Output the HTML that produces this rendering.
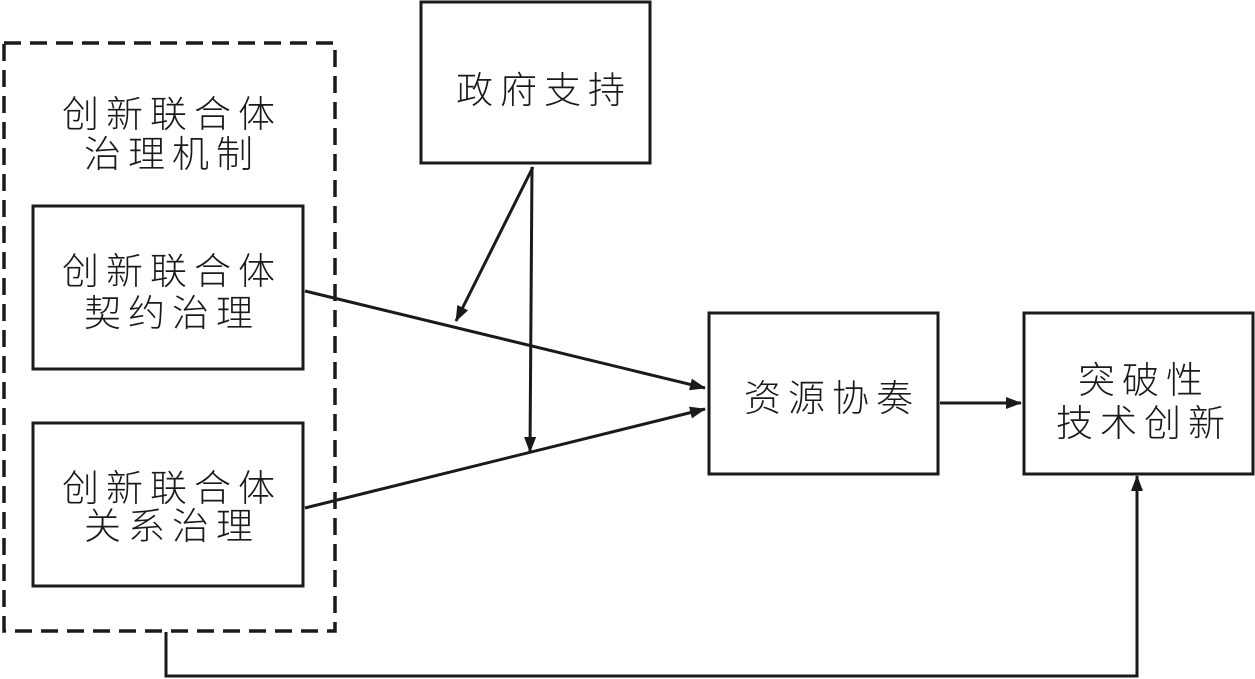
<!DOCTYPE html>
<html><head><meta charset="utf-8"><style>
html,body{margin:0;padding:0;background:#fff;}
svg{display:block;}
text{font-family:"Liberation Sans","Noto Sans CJK SC",sans-serif;font-size:37px;font-weight:300;fill:#1a1a1a;text-anchor:middle;letter-spacing:7px;}
</style></head><body>
<svg width="1255" height="679" viewBox="0 0 1255 679" xmlns="http://www.w3.org/2000/svg">
<defs>
<marker id="b" markerWidth="16" markerHeight="12" refX="15" refY="6" orient="auto" markerUnits="userSpaceOnUse">
<path d="M0,0 L16,6 L0,12 Z" fill="#1a1a1a"/></marker>
</defs>
<g fill="none" stroke="#1a1a1a" stroke-width="3">
<rect x="4" y="43" width="331" height="588" stroke-dasharray="17,9" stroke-width="3.5"/>
<rect x="33" y="206" width="270" height="163"/>
<rect x="33" y="423" width="270" height="163"/>
<rect x="421" y="2" width="229" height="161"/>
<rect x="709" y="313" width="229" height="161"/>
<rect x="1024" y="313" width="229" height="161"/>
<line x1="305" y1="291" x2="705" y2="388" marker-end="url(#b)"/>
<line x1="305" y1="508" x2="705" y2="409" marker-end="url(#b)"/>
<line x1="533" y1="167" x2="456" y2="321" marker-end="url(#b)"/>
<line x1="532" y1="167" x2="530" y2="452" marker-end="url(#b)"/>
<line x1="940" y1="403" x2="1021" y2="403" marker-end="url(#b)"/>
<polyline points="166,632 166,676 1137,676 1137,476" marker-end="url(#b)"/>
</g>
<text x="172" y="127">创新联合体</text>
<text x="172" y="167">治理机制</text>
<text x="172" y="284">创新联合体</text>
<text x="172" y="326">契约治理</text>
<text x="172" y="501">创新联合体</text>
<text x="172" y="539">关系治理</text>
<text x="544" y="103">政府支持</text>
<text x="832" y="411">资源协奏</text>
<text x="1144" y="393">突破性</text>
<text x="1144" y="436">技术创新</text>
</svg>
</body></html>
